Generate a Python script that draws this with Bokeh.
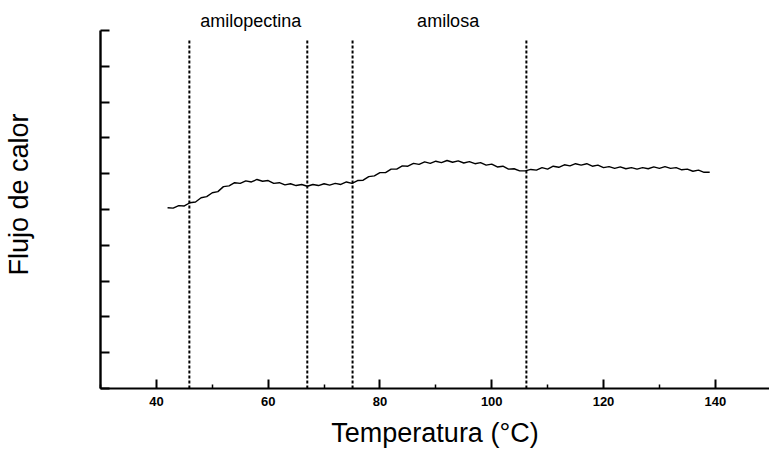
from bokeh.plotting import figure
from bokeh.models import Range1d, FixedTicker, Label
from bokeh.embed import file_html
from bokeh.resources import INLINE

# Temperature (°C) and heat-flow trace
temperatura = list(range(42, 140))
flujo = [
    5.05, 5.04, 5.11, 5.10, 5.19, 5.21, 5.33, 5.36, 5.47, 5.50,
    5.64, 5.66, 5.75, 5.73, 5.80, 5.77, 5.84, 5.79, 5.81, 5.73,
    5.75, 5.69, 5.72, 5.67, 5.70, 5.65, 5.70, 5.67, 5.72, 5.68,
    5.73, 5.70, 5.77, 5.73, 5.81, 5.82, 5.92, 5.94, 6.03, 6.03,
    6.13, 6.13, 6.22, 6.21, 6.29, 6.26, 6.33, 6.29, 6.35, 6.31,
    6.37, 6.32, 6.36, 6.30, 6.34, 6.28, 6.31, 6.24, 6.27, 6.19,
    6.21, 6.13, 6.14, 6.08, 6.08, 6.12, 6.10, 6.17, 6.13, 6.21,
    6.18, 6.25, 6.22, 6.28, 6.24, 6.28, 6.21, 6.24, 6.17, 6.20,
    6.15, 6.19, 6.14, 6.17, 6.13, 6.17, 6.14, 6.19, 6.15, 6.20,
    6.15, 6.17, 6.11, 6.13, 6.07, 6.10, 6.04, 6.04,
]

# Transition markers (°C)
marcas = [45.9, 67.0, 75.1, 106.2]
regiones = ["amilopectina", "amilosa"]
regiones_x = [56.9, 92.2]

x_ticks = [40, 60, 80, 100, 120, 140]
x_minor = [30, 50, 70, 90, 110, 130, 150]
y_ticks = list(range(0, 11))

FONT = "Liberation Sans"

p = figure(width=769, height=453, output_backend="svg", toolbar_location=None,
           x_range=Range1d(30, 149.7), y_range=Range1d(0, 10.84),
           min_border_left=100, min_border_right=0, min_border_top=0,
           min_border_bottom=65)
p.outline_line_color = None
p.xgrid.visible = False
p.ygrid.visible = False
p.background_fill_color = "white"
p.border_fill_color = "white"

# vertical dashed markers
for m in marcas:
    p.segment(x0=[m], y0=[0], x1=[m], y1=[9.72], line_color="black",
              line_width=2, line_dash="3 2")

# the curve
p.line(temperatura, flujo, line_color="black", line_width=1.4)

# region labels
for txt, xx in zip(regiones, regiones_x):
    p.add_layout(Label(x=xx, y=10.28, text=txt, text_align="center",
                       text_baseline="middle", text_font=FONT,
                       text_font_size="18px", text_color="black"))

# x axis
xa = p.xaxis[0]
xa.ticker = FixedTicker(ticks=x_ticks, minor_ticks=x_minor)
xa.axis_line_width = 2.2
xa.axis_line_color = "black"
xa.major_tick_in = 9
xa.major_tick_out = 0
xa.minor_tick_in = 4
xa.minor_tick_out = 0
xa.major_tick_line_width = 2
xa.minor_tick_line_width = 1.5
xa.major_label_text_font = FONT
xa.major_label_text_font_style = "bold"
xa.major_label_text_font_size = "13px"
xa.major_label_text_color = "black"
xa.major_label_standoff = 8
xa.axis_label = "Temperatura (°C)"
xa.axis_label_text_font = FONT
xa.axis_label_text_font_style = "normal"
xa.axis_label_text_font_size = "27px"
xa.axis_label_text_color = "black"
xa.axis_label_standoff = 9

# y axis
ya = p.yaxis[0]
ya.bounds = (0, 10)
ya.ticker = FixedTicker(ticks=y_ticks, minor_ticks=[])
ya.axis_line_width = 2.4
ya.axis_line_color = "black"
ya.major_tick_in = 9
ya.major_tick_out = 0
ya.major_tick_line_width = 2
ya.major_label_overrides = {t: "" for t in y_ticks}
ya.major_label_text_font_size = "1px"
ya.axis_label = "Flujo de calor"
ya.axis_label_text_font = FONT
ya.axis_label_text_font_style = "normal"
ya.axis_label_text_font_size = "27px"
ya.axis_label_text_color = "black"
ya.axis_label_standoff = 67

open("out.html", "w").write(file_html(p, INLINE))
